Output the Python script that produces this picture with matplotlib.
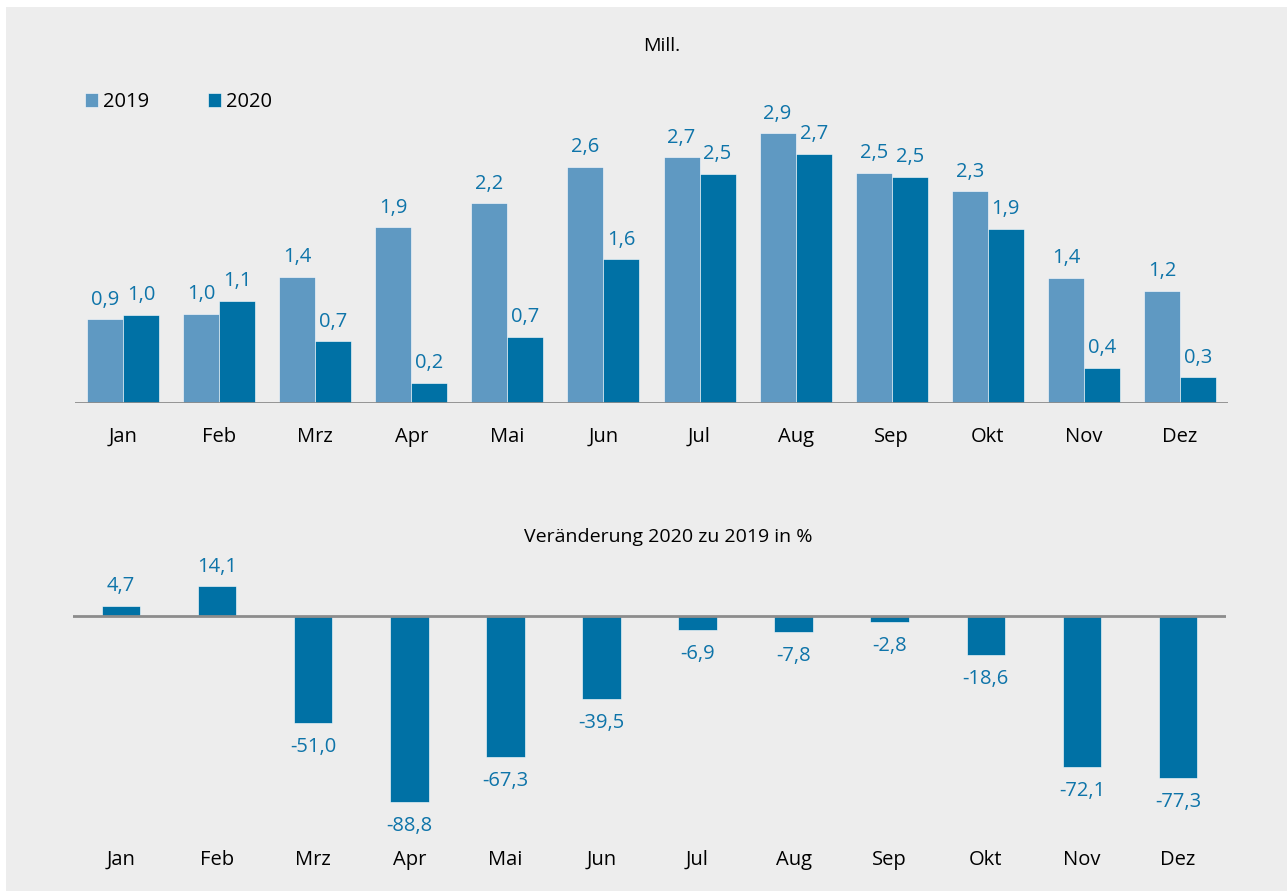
import matplotlib.pyplot as plt
import numpy as np
from matplotlib.patches import Rectangle

# -------------------------------
# Data (Mill.)
# -------------------------------
months = ['Jan', 'Feb', 'Mrz', 'Apr', 'Mai', 'Jun', 'Jul', 'Aug', 'Sep', 'Okt', 'Nov', 'Dez']
values_2019 = [0.91, 0.97, 1.37, 1.91, 2.17, 2.57, 2.67, 2.93, 2.50, 2.30, 1.36, 1.22]
values_2020 = [0.96, 1.11, 0.67, 0.22, 0.72, 1.56, 2.49, 2.71, 2.46, 1.89, 0.38, 0.28]
change_pct = [4.7, 14.1, -51.0, -88.8, -67.3, -39.5, -6.9, -7.8, -2.8, -18.6, -72.1, -77.3]

c2019 = '#5f99c2'
c2020 = '#0071a5'
c_label = '#0e74a9'
bg = '#ededed'
fs = 14.5

plt.rcParams['font.family'] = ['Open Sans', 'DejaVu Sans']

fig = plt.figure(figsize=(12.87, 8.91), dpi=100, facecolor='white')
fig.patches.append(Rectangle((6 / 1287, 0), 1, 1 - 7 / 891, transform=fig.transFigure,
                             facecolor=bg, edgecolor='none', zorder=-10))

x = np.arange(len(months))


def fmt(v):
    return f"{v:.1f}".replace('.', ',')


def style_axes(ax):
    ax.set_facecolor('none')
    for s in ax.spines.values():
        s.set_visible(False)
    ax.set_yticks([])
    ax.set_xticks(x)
    ax.set_xticklabels(months, fontsize=fs, color='black')
    ax.tick_params(axis='x', length=0, pad=17)
    ax.set_xlim(-0.5, len(months) - 0.5)


# -------------------------------
# Top chart: absolute values
# -------------------------------
ax1 = fig.add_axes([75 / 1287, 1 - 403 / 891, 1153 / 1287, 343 / 891])
style_axes(ax1)
w = 0.375
ax1.bar(x - w / 2, values_2019, w, color=c2019, edgecolor='white', linewidth=0.4, label='2019')
ax1.bar(x + w / 2, values_2020, w, color=c2020, edgecolor='white', linewidth=0.4, label='2020')
ax1.set_ylim(0, 343 / 92)
ax1.axhline(0, color='#8c8c8c', linewidth=2, zorder=3)
for xi, v in zip(x - w / 2, values_2019):
    ax1.annotate(fmt(v), (xi, v), xytext=(0, 7), textcoords='offset points',
                 ha='center', va='bottom', fontsize=fs, color=c_label)
for xi, v in zip(x + w / 2, values_2020):
    ax1.annotate(fmt(v), (xi, v), xytext=(0, 7), textcoords='offset points',
                 ha='center', va='bottom', fontsize=fs, color=c_label)

fig.text(662 / 1287, 1 - 46 / 891, 'Mill.', ha='center', va='center', fontsize=14)
ax1.legend(loc='upper left', bbox_to_anchor=(2 / 1153, 1 - 24 / 343), ncol=2, frameon=False,
           fontsize=fs, handlelength=0.65, handleheight=0.65, handletextpad=0.25,
           columnspacing=2.9, borderaxespad=0)

# -------------------------------
# Bottom chart: change in %
# -------------------------------
ax2 = fig.add_axes([73 / 1287, 1 - 826 / 891, 1153 / 1287, 262.5 / 891])
style_axes(ax2)
ax2.bar(x, change_pct, 0.4, color=c2020, edgecolor='white', linewidth=0.4)
ax2.set_ylim(-100, 25)
ax2.axhline(0, color='#8c8c8c', linewidth=2, zorder=3)
for xi, v in zip(x, change_pct):
    if v >= 0:
        ax2.annotate(fmt(v), (xi, v), xytext=(0, 7), textcoords='offset points',
                     ha='center', va='bottom', fontsize=fs, color=c_label)
    else:
        ax2.annotate(fmt(v), (xi, v), xytext=(0, -10), textcoords='offset points',
                     ha='center', va='top', fontsize=fs, color=c_label)

fig.text(668 / 1287, 1 - 537 / 891, 'Veränderung 2020 zu 2019 in %', ha='center', va='center',
         fontsize=14)

fig.savefig('out.png', dpi=100, facecolor=fig.get_facecolor())
